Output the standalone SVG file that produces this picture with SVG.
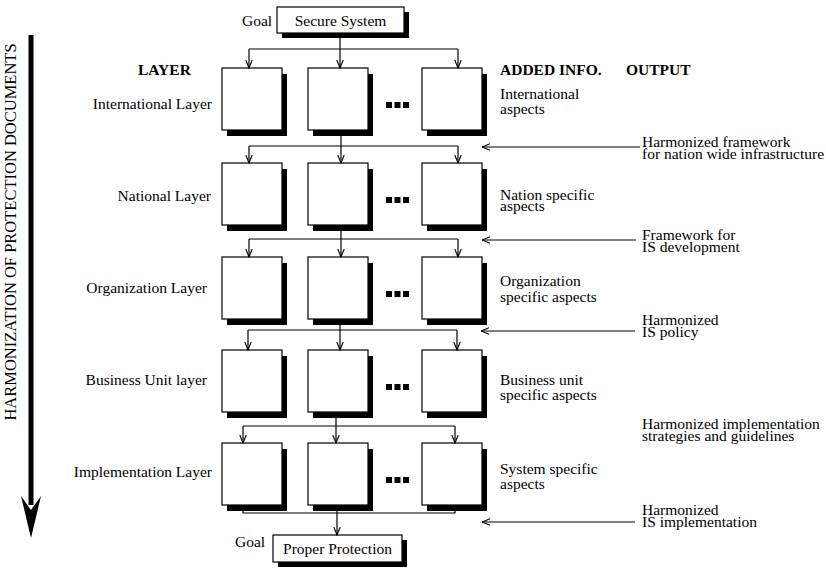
<svg xmlns="http://www.w3.org/2000/svg" width="826" height="568" viewBox="0 0 826 568">
<style>
text{font-family:"Liberation Serif","Times New Roman",serif;font-size:15.5px;fill:#000}
.b{font-weight:bold}
.box{fill:#fff;stroke:#000;stroke-width:1.2}
.sh{fill:#000}
.ln{fill:none;stroke:#000;stroke-width:1.2}
.dot{fill:#000}
</style>
<defs>
<marker id="ah" viewBox="0 0 10 10" refX="10" refY="5" markerWidth="9" markerHeight="8" markerUnits="userSpaceOnUse" orient="auto">
<path d="M0,1 L10,5 L0,9" fill="none" stroke="#000" stroke-width="1.4"/>
</marker>
</defs>
<rect width="826" height="568" fill="#fff"/>

<g id="side-arrow">
<line x1="31" y1="35" x2="31" y2="505" stroke="#000" stroke-width="5"/>
<path d="M31,538 L21,496 L31,510 L41,496 Z" fill="#000"/>
<text transform="translate(16,232) rotate(-90)" text-anchor="middle" style="font-size:16.5px">HARMONIZATION OF PROTECTION DOCUMENTS</text>
</g>

<g id="headers">
<text class="b" x="138" y="75">LAYER</text>
<text class="b" x="500" y="75">ADDED INFO.</text>
<text class="b" x="626" y="75">OUTPUT</text>
</g>

<g id="goal-top">
<text x="242" y="26">Goal</text>
<rect class="sh" x="282" y="12" width="127" height="26"/>
<rect class="box" x="277" y="7" width="127" height="26"/>
<text x="340.5" y="25.5" text-anchor="middle">Secure System</text>
</g>

<g id="goal-bottom">
<text x="235" y="547">Goal</text>
<rect class="sh" x="278" y="540" width="129" height="27"/>
<rect class="box" x="273" y="535" width="129" height="27"/>
<text x="337.5" y="554" text-anchor="middle">Proper Protection</text>
</g>

<g id="layer-international">
<text x="212" y="109" text-anchor="end">International Layer</text>
<rect class="sh" x="227" y="74" width="60" height="62"/><rect class="box" x="222" y="68" width="60" height="62"/>
<rect class="sh" x="313" y="74" width="60" height="62"/><rect class="box" x="308" y="68" width="60" height="62"/>
<rect class="sh" x="427" y="74" width="60" height="62"/><rect class="box" x="422" y="68" width="60" height="62"/>
<rect class="dot" x="386" y="102" width="6" height="6"/><rect class="dot" x="394.5" y="102" width="6" height="6"/><rect class="dot" x="403" y="102" width="6" height="6"/>
<text x="500" y="99">International</text>
<text x="500" y="114">aspects</text>
</g>

<g id="layer-national">
<text x="211" y="201" text-anchor="end">National Layer</text>
<rect class="sh" x="227" y="169" width="60" height="62"/><rect class="box" x="222" y="163" width="60" height="62"/>
<rect class="sh" x="313" y="169" width="60" height="62"/><rect class="box" x="308" y="163" width="60" height="62"/>
<rect class="sh" x="427" y="169" width="60" height="62"/><rect class="box" x="422" y="163" width="60" height="62"/>
<rect class="dot" x="386" y="197" width="6" height="6"/><rect class="dot" x="394.5" y="197" width="6" height="6"/><rect class="dot" x="403" y="197" width="6" height="6"/>
<text x="500" y="200">Nation specific</text>
<text x="500" y="211">aspects</text>
</g>

<g id="layer-organization">
<text x="207" y="293" text-anchor="end">Organization Layer</text>
<rect class="sh" x="227" y="263" width="60" height="62"/><rect class="box" x="222" y="257" width="60" height="62"/>
<rect class="sh" x="313" y="263" width="60" height="62"/><rect class="box" x="308" y="257" width="60" height="62"/>
<rect class="sh" x="427" y="263" width="60" height="62"/><rect class="box" x="422" y="257" width="60" height="62"/>
<rect class="dot" x="386" y="291" width="6" height="6"/><rect class="dot" x="394.5" y="291" width="6" height="6"/><rect class="dot" x="403" y="291" width="6" height="6"/>
<text x="500" y="286">Organization</text>
<text x="500" y="302">specific aspects</text>
</g>

<g id="layer-business">
<text x="207" y="385" text-anchor="end">Business Unit layer</text>
<rect class="sh" x="227" y="356" width="60" height="62"/><rect class="box" x="222" y="350" width="60" height="62"/>
<rect class="sh" x="313" y="356" width="60" height="62"/><rect class="box" x="308" y="350" width="60" height="62"/>
<rect class="sh" x="427" y="356" width="60" height="62"/><rect class="box" x="422" y="350" width="60" height="62"/>
<rect class="dot" x="386" y="384" width="6" height="6"/><rect class="dot" x="394.5" y="384" width="6" height="6"/><rect class="dot" x="403" y="384" width="6" height="6"/>
<text x="500" y="385">Business unit</text>
<text x="500" y="400">specific aspects</text>
</g>

<g id="layer-implementation">
<text x="212" y="477" text-anchor="end">Implementation Layer</text>
<rect class="sh" x="227" y="449" width="60" height="62"/><rect class="box" x="222" y="443" width="60" height="62"/>
<rect class="sh" x="313" y="449" width="60" height="62"/><rect class="box" x="308" y="443" width="60" height="62"/>
<rect class="sh" x="427" y="449" width="60" height="62"/><rect class="box" x="422" y="443" width="60" height="62"/>
<rect class="dot" x="386" y="477" width="6" height="6"/><rect class="dot" x="394.5" y="477" width="6" height="6"/><rect class="dot" x="403" y="477" width="6" height="6"/>
<text x="500" y="474">System specific</text>
<text x="500" y="489">aspects</text>
</g>

<g id="outputs">
<text x="642" y="147">Harmonized framework</text>
<text x="642" y="159">for nation wide infrastructure</text>
<text x="642" y="240">Framework for</text>
<text x="642" y="252">IS development</text>
<text x="642" y="325">Harmonized</text>
<text x="642" y="337">IS policy</text>
<text x="642" y="429">Harmonized implementation</text>
<text x="642" y="441">strategies and guidelines</text>
<text x="642" y="515">Harmonized</text>
<text x="642" y="527">IS implementation</text>
</g>

<g id="connectors">
<path class="ln" d="M340,33 V49 M249,49 H458"/>
<line class="ln" x1="249" y1="49" x2="249" y2="68" marker-end="url(#ah)"/>
<line class="ln" x1="340" y1="49" x2="340" y2="68" marker-end="url(#ah)"/>
<line class="ln" x1="458" y1="49" x2="458" y2="68" marker-end="url(#ah)"/>

<path class="ln" d="M341,136 V146 M249,146 H458"/>
<line class="ln" x1="249" y1="146" x2="249" y2="163" marker-end="url(#ah)"/>
<line class="ln" x1="341" y1="146" x2="341" y2="163" marker-end="url(#ah)"/>
<line class="ln" x1="458" y1="146" x2="458" y2="163" marker-end="url(#ah)"/>

<path class="ln" d="M341,231 V239 M249,239 H458"/>
<line class="ln" x1="249" y1="239" x2="249" y2="257" marker-end="url(#ah)"/>
<line class="ln" x1="341" y1="239" x2="341" y2="257" marker-end="url(#ah)"/>
<line class="ln" x1="458" y1="239" x2="458" y2="257" marker-end="url(#ah)"/>

<path class="ln" d="M340,325 V330 M248,330 H457"/>
<line class="ln" x1="248" y1="330" x2="248" y2="350" marker-end="url(#ah)"/>
<line class="ln" x1="340" y1="330" x2="340" y2="350" marker-end="url(#ah)"/>
<line class="ln" x1="457" y1="330" x2="457" y2="350" marker-end="url(#ah)"/>

<path class="ln" d="M336,418 V426 M243,426 H455"/>
<line class="ln" x1="243" y1="426" x2="243" y2="443" marker-end="url(#ah)"/>
<line class="ln" x1="336" y1="426" x2="336" y2="443" marker-end="url(#ah)"/>
<line class="ln" x1="455" y1="426" x2="455" y2="443" marker-end="url(#ah)"/>

<path class="ln" d="M243,511 V513 H455 V511"/>
<line class="ln" x1="337" y1="511" x2="337" y2="535" marker-end="url(#ah)"/>

<line class="ln" x1="640" y1="147" x2="482" y2="147" marker-end="url(#ah)"/>
<line class="ln" x1="636" y1="240" x2="482" y2="240" marker-end="url(#ah)"/>
<line class="ln" x1="635" y1="331" x2="481" y2="331" marker-end="url(#ah)"/>
<line class="ln" x1="635" y1="522" x2="482" y2="522" marker-end="url(#ah)"/>
</g>
</svg>
